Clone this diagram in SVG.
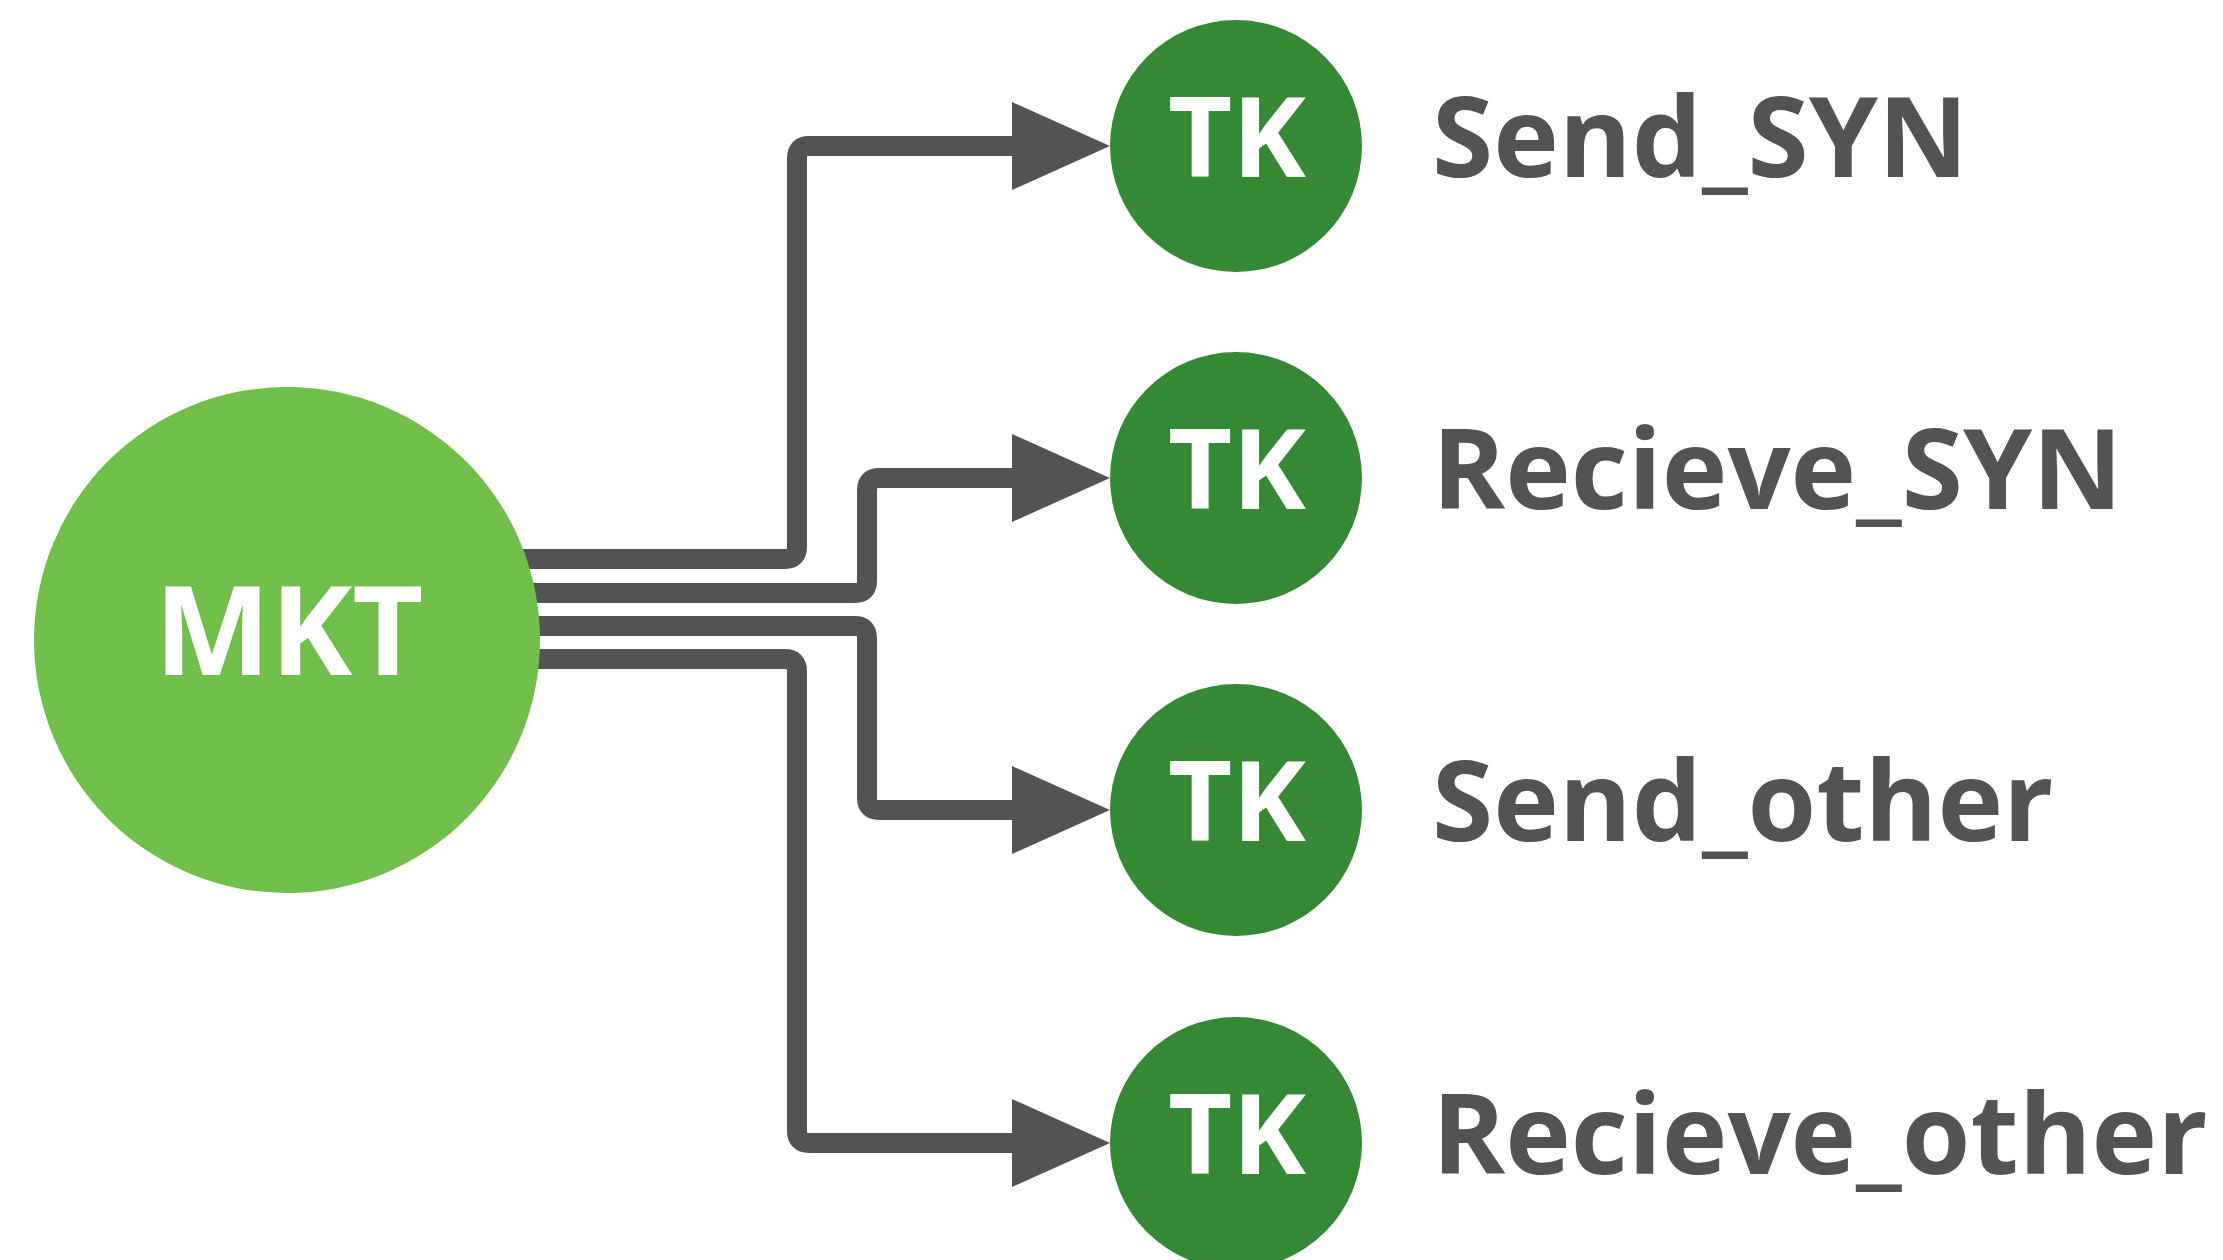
<svg xmlns="http://www.w3.org/2000/svg" width="2223" height="1260" viewBox="0 0 2223 1260">
<style>
.conn{fill:none;stroke:#535353;stroke-width:20;stroke-linejoin:round}
.head{fill:#535353}
.tk{fill:#358935}
.mkt{fill:#71bf4b}
.in{font-family:"Open Sans","Noto Sans",sans-serif;font-weight:bold;fill:#ffffff;text-anchor:middle}
.lbl{font-family:"Open Sans","Noto Sans",sans-serif;font-weight:bold;fill:#535353;font-size:111px}
</style>
<rect width="2223" height="1260" fill="#ffffff"/>
<g id="connectors">
<path class="conn" d="M400 559 H785 Q797 559 797 547 V158 Q797 146 809 146 H1014"/>
<path class="conn" d="M400 593 H855 Q867 593 867 581 V490 Q867 478 879 478 H1014"/>
<path class="conn" d="M400 626 H855 Q867 626 867 638 V798 Q867 810 879 810 H1014"/>
<path class="conn" d="M400 659 H785 Q797 659 797 671 V1131 Q797 1143 809 1143 H1014"/>
<polygon class="head" points="1012,102 1110,146 1012,190"/>
<polygon class="head" points="1012,434 1110,478 1012,522"/>
<polygon class="head" points="1012,766 1110,810 1012,854"/>
<polygon class="head" points="1012,1099 1110,1143 1012,1187"/>
</g>
<g id="mkt">
<circle class="mkt" cx="287" cy="640" r="253"/>
<text class="in" x="289" y="675" font-size="123">MKT</text>
</g>
<g id="tk1">
<circle class="tk" cx="1236" cy="146" r="126"/>
<text class="in" x="1237" y="177" font-size="111">TK</text>
</g>
<g id="tk2">
<circle class="tk" cx="1236" cy="478" r="126"/>
<text class="in" x="1237" y="509" font-size="111">TK</text>
</g>
<g id="tk3">
<circle class="tk" cx="1236" cy="810" r="126"/>
<text class="in" x="1237" y="841" font-size="111">TK</text>
</g>
<g id="tk4">
<circle class="tk" cx="1236" cy="1143" r="126"/>
<text class="in" x="1237" y="1174" font-size="111">TK</text>
</g>
<g id="labels">
<text class="lbl" x="1432" y="177">Send_SYN</text>
<text class="lbl" x="1432" y="509">Recieve_SYN</text>
<text class="lbl" x="1432" y="841">Send_other</text>
<text class="lbl" x="1432" y="1174">Recieve_other</text>
</g>
</svg>
